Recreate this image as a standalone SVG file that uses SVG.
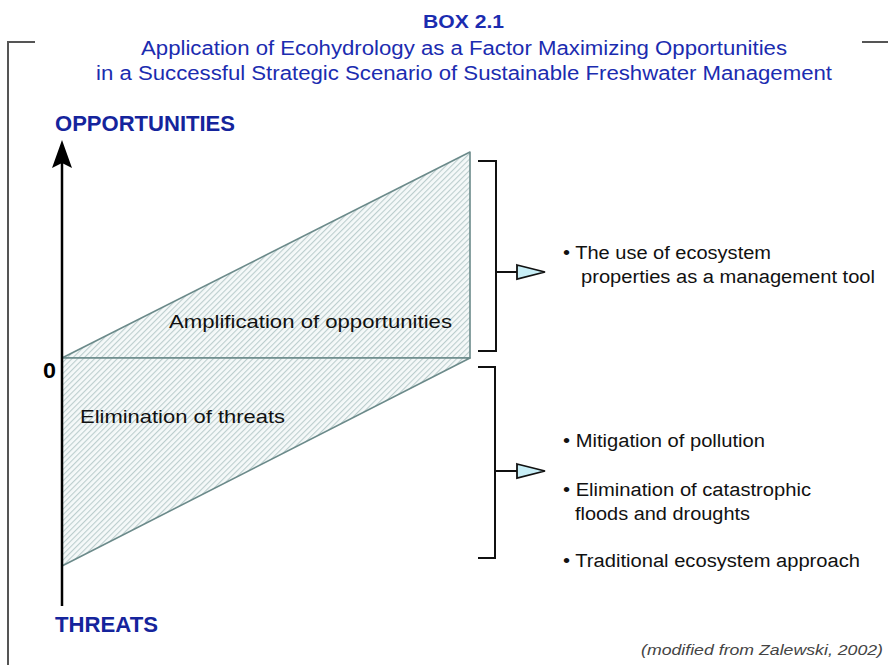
<svg xmlns="http://www.w3.org/2000/svg" width="888" height="665" viewBox="0 0 888 665">
<style>
text{font-family:"Liberation Sans",Arial,sans-serif;}
.blue{fill:#1b2cb0;}
.navy{fill:#15249c;}
.title{font-size:20px;}
.ax{font-size:22px;font-weight:bold;}
.lbl{font-size:19px;fill:#111;}
.bul{font-size:18px;fill:#111;}
.frame{stroke:#555;stroke-width:2;fill:none;}
.shape{fill:url(#hatch);stroke:#6b8a8a;stroke-width:1.6;stroke-linejoin:round;}
.br{stroke:#111;stroke-width:2;fill:none;}
.tri{fill:#c8eef6;stroke:#111;stroke-width:1.8;stroke-linejoin:miter;}
</style>
<defs>
<pattern id="hatch" width="4" height="4" patternUnits="userSpaceOnUse" patternTransform="rotate(45)">
<rect width="4" height="4" fill="#f5f9f9"/>
<line x1="0.6" y1="0" x2="0.6" y2="4" stroke="#b6caca" stroke-width="1"/>
</pattern>
</defs>
<rect width="888" height="665" fill="#fff"/>
<g id="frame">
<polyline class="frame" points="35,42 8,42 8,665"/>
<line class="frame" x1="862" y1="42" x2="888" y2="42"/>
</g>
<g id="title">
<text class="blue" x="423" y="28" font-size="19" font-weight="bold" textLength="81" lengthAdjust="spacingAndGlyphs">BOX 2.1</text>
<text class="blue title" x="464" y="55" text-anchor="middle" textLength="646" lengthAdjust="spacingAndGlyphs">Application of Ecohydrology as a Factor Maximizing Opportunities</text>
<text class="blue title" x="464" y="80" text-anchor="middle" textLength="736" lengthAdjust="spacingAndGlyphs">in a Successful Strategic Scenario of Sustainable Freshwater Management</text>
</g>
<g id="amplification">
<polygon class="shape" points="62,358 470,152 470,358"/>
<text class="lbl" x="169" y="328" textLength="283" lengthAdjust="spacingAndGlyphs">Amplification of opportunities</text>
</g>
<g id="elimination">
<polygon class="shape" points="62,358 470,358 62,566"/>
<text class="lbl" x="80" y="423" textLength="205" lengthAdjust="spacingAndGlyphs">Elimination of threats</text>
</g>
<g id="axis">
<line x1="62" y1="160" x2="62" y2="606" stroke="#000" stroke-width="2.5"/>
<polygon points="62,140 72,168 62,163 52,168" fill="#000"/>
<text class="navy ax" x="55" y="131" textLength="180" lengthAdjust="spacingAndGlyphs">OPPORTUNITIES</text>
<text class="navy ax" x="55" y="632" textLength="103" lengthAdjust="spacingAndGlyphs">THREATS</text>
<text x="43" y="378" font-size="22" font-weight="bold" fill="#000" textLength="13" lengthAdjust="spacingAndGlyphs">0</text>
</g>
<g id="connectors">
<polyline class="br" points="478,161 496,161 496,351 478,351"/>
<line class="br" x1="496" y1="272" x2="517" y2="272"/>
<polygon class="tri" points="517,265 545,272 517,279"/>
<polyline class="br" points="478,367 495,367 495,558 478,558"/>
<line class="br" x1="495" y1="471" x2="517" y2="471"/>
<polygon class="tri" points="517,464 545,471 517,478"/>
</g>
<g id="opportunities-list">
<text class="bul" x="563" y="259" textLength="208" lengthAdjust="spacingAndGlyphs">• The use of ecosystem</text>
<text class="bul" x="581" y="283" textLength="294" lengthAdjust="spacingAndGlyphs">properties as a management tool</text>
</g>
<g id="threats-list">
<text class="bul" x="563" y="447" textLength="202" lengthAdjust="spacingAndGlyphs">• Mitigation of pollution</text>
<text class="bul" x="563" y="496" textLength="248" lengthAdjust="spacingAndGlyphs">• Elimination of catastrophic</text>
<text class="bul" x="575" y="520" textLength="175" lengthAdjust="spacingAndGlyphs">floods and droughts</text>
<text class="bul" x="563" y="567" textLength="297" lengthAdjust="spacingAndGlyphs">• Traditional ecosystem approach</text>
</g>
<text x="883" y="655" text-anchor="end" font-size="15" font-style="italic" fill="#444" textLength="242" lengthAdjust="spacingAndGlyphs">(modified from Zalewski, 2002)</text>
</svg>
